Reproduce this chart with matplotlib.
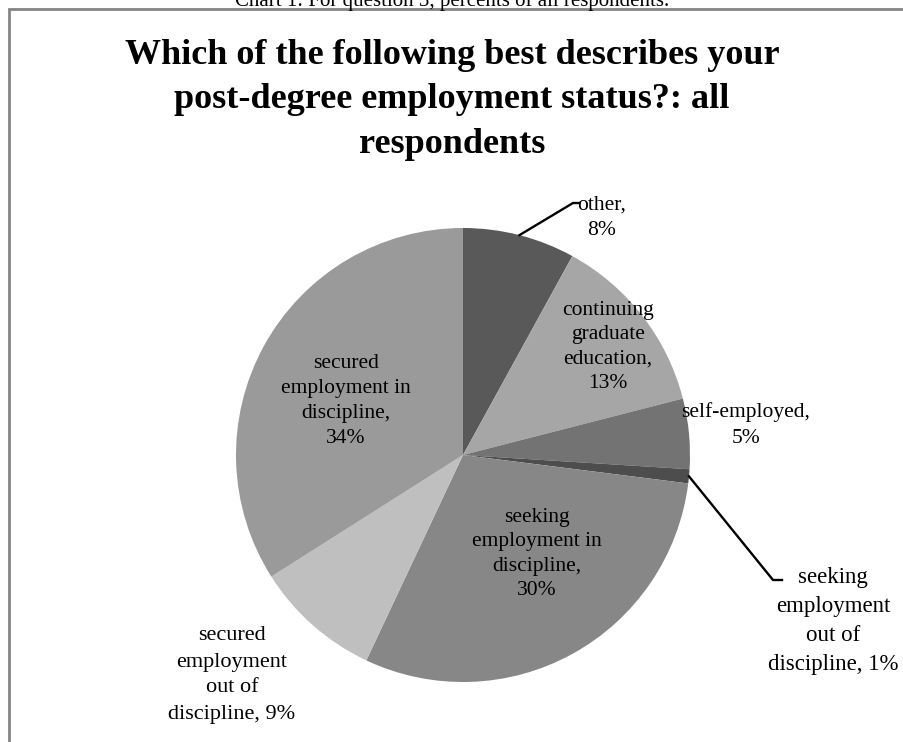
"""
	plot.py
	pie chart of post-degree employment status for all respondents
"""

# import required libraries
import numpy as np
import matplotlib.pyplot as plt
from matplotlib.patches import Rectangle

# chart data
categories = ['other', 'continuing\ngraduate\neducation', 'self-employed',
	'seeking\nemployment\nout of\ndiscipline', 'seeking\nemployment in\ndiscipline',
	'secured\nemployment\nout of\ndiscipline', 'secured\nemployment in\ndiscipline']
percents = [8, 13, 5, 1, 30, 9, 34]
label_texts = ['other,\n8%', 'continuing\ngraduate\neducation,\n13%', 'self-employed,\n5%',
	'seeking\nemployment\nout of\ndiscipline, 1%', 'seeking\nemployment in\ndiscipline,\n30%',
	'secured\nemployment\nout of\ndiscipline, 9%', 'secured\nemployment in\ndiscipline,\n34%']
slice_colours = ['#595959', '#a6a6a6', '#737373', '#4d4d4d', '#878787', '#bfbfbf', '#9a9a9a']

chart_title = 'Which of the following best describes your\npost-degree employment status?: all\nrespondents'
caption = 'Chart 1: For question 3, percents of all respondents.'

# figure size in pixels
W, H = 904, 742

# label layout, pixel coordinates measured from the top-left corner
# (x, y, font size, line spacing)
label_pos = [(602, 218, 15.5, 1.45), (608, 347, 15.5, 1.4), (746, 425, 15.5, 1.45),
	(833, 621, 16.5, 1.5), (537, 554, 15.5, 1.4), (232, 675, 16, 1.5), (346, 401, 15.5, 1.45)]
# slices whose labels are joined by a leader line: (index, elbow x, elbow y, end x)
leaders = [(0, 573, 203, 579), (3, 773, 580, 782)]

plt.rcParams['font.family'] = ['Liberation Serif', 'DejaVu Serif']

fig = plt.figure(figsize=(W / 100, H / 100), dpi=100)
ax = fig.add_axes([0, 0, 1, 1])

# pie centre and radius
cx, cy, r = 463, H - 455, 227

wedges, _ = ax.pie(percents, colors=slice_colours, startangle=90, counterclock=False,
	center=(cx, cy), radius=r, wedgeprops=dict(linewidth=0), frame=True)
ax.set_xlim(0, W)
ax.set_ylim(0, H)
ax.set_aspect('equal')
ax.axis('off')

# data labels
for text, (px, py, fs, ls) in zip(label_texts, label_pos):
	ax.text(px, H - py, text, ha='center', va='center', fontsize=fs,
		linespacing=ls, color='black')

# leader lines from the middle of the slice edge
for idx, ex, ey, endx in leaders:
	w = wedges[idx]
	mid = np.deg2rad((w.theta1 + w.theta2) / 2)
	sx = cx + r * np.cos(mid)
	sy = cy + r * np.sin(mid)
	ax.plot([sx, ex, endx], [sy, H - ey, H - ey], color='black', linewidth=1.7,
		solid_joinstyle='miter')

# chart title
fig.text(0.5, 1 - 100 / H, chart_title, ha='center', va='center', fontsize=26,
	fontweight='bold', linespacing=1.46)

# caption above the chart frame, mostly cut off
fig.text(0.5, 1 - 6 / H, caption, ha='center', va='baseline', fontsize=15)

# chart frame
fig.patches.append(Rectangle((9 / W, -0.1), 1.2, 1 - 9 / H + 0.1, transform=fig.transFigure,
	fill=False, edgecolor='#858585', linewidth=2))

fig.savefig('out.png', dpi=100)
